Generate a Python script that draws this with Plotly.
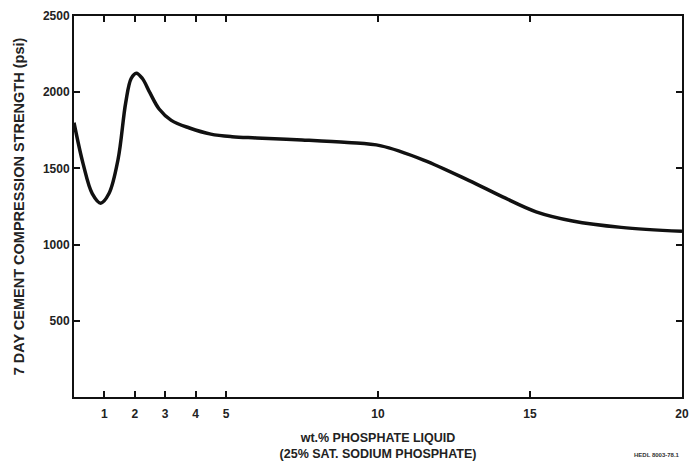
import plotly.graph_objects as go

# wt.% phosphate liquid
phosphate_pct = [0.0, 0.3, 0.6, 0.88, 1.15, 1.45, 1.7, 1.88, 2.05, 2.25, 2.5, 2.8, 3.2, 3.8,
                 4.5, 5.2, 6.0, 7.5, 9.0, 10.1, 11.5, 13.0, 14.1, 15.2, 16.4,
                 18.0, 20.0]
# 7 day cement compression strength (psi)
strength_psi = [1800, 1530, 1335, 1272, 1335, 1560, 1930, 2090, 2125, 2090, 1995, 1890, 1815, 1765,
                1725, 1708, 1700, 1687, 1670, 1648, 1555, 1420, 1313, 1215, 1155,
                1113, 1087]

x_ticks = [1, 2, 3, 4, 5, 10, 15, 20]
y_ticks = [500, 1000, 1500, 2000, 2500]

FONT = "Liberation Sans, Arial, sans-serif"

fig = go.Figure()
fig.add_trace(go.Scatter(
    x=phosphate_pct, y=strength_psi, mode="lines",
    line=dict(color="#111111", width=3.5, shape="spline", smoothing=1.0),
    showlegend=False, hoverinfo="skip",
))

axis_common = dict(
    showgrid=False, zeroline=False, showline=True, linecolor="#111111", linewidth=2,
    ticks="inside", ticklen=6, tickwidth=1.5, tickcolor="#111111", mirror="allticks",
    tickfont=dict(family=FONT, size=12, color="#222222"),
    ticklabeloverflow="allow",
)

fig.update_layout(
    width=691, height=461,
    margin=dict(l=74, r=9, t=16, b=64),
    paper_bgcolor="white", plot_bgcolor="white",
    font=dict(family=FONT, color="#222222"),
    xaxis=dict(range=[0, 20], tickvals=x_ticks, ticktext=[f"<b>{v}</b>" for v in x_ticks],
               ticklabelstandoff=5,
               title=dict(text="<b>wt.% PHOSPHATE LIQUID<br>(25% SAT. SODIUM PHOSPHATE)</b>",
                          font=dict(family=FONT, size=12.5), standoff=14),
               automargin=False,
               **axis_common),
    yaxis=dict(range=[0, 2500], tickvals=y_ticks, ticktext=[f"<b>{v}</b>" for v in y_ticks],
               title=dict(text="<b>7 DAY CEMENT COMPRESSION STRENGTH (psi)</b>",
                          font=dict(family=FONT, size=14.5), standoff=15),
               automargin=False,
               **axis_common),
)

fig.add_annotation(text="<b>HEDL 8003-78.1</b>", xref="paper", yref="paper",
                   x=1.0, y=-0.165, xanchor="right", yanchor="bottom",
                   showarrow=False, font=dict(family=FONT, size=6, color="#333333"))

fig.write_html("out.html")
